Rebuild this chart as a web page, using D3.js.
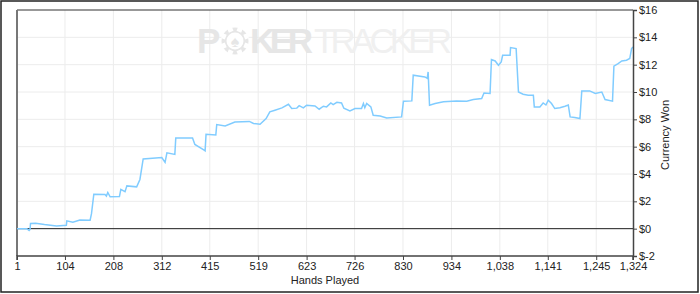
<!DOCTYPE html>
<html>
<head>
<meta charset="utf-8">
<script src="https://cdn.jsdelivr.net/npm/d3@7"></script>
<style>
  body { margin: 0; background: #fff; }
  svg { display: block; font-family: "Liberation Sans", Arial, sans-serif; }
</style>
</head>
<body>
<div id="container"></div>
<script>
// hands played and cumulative winnings
const hands = [1, 22, 27, 29, 30, 41, 60, 86, 107, 108, 121, 136, 158, 161, 166, 190, 193, 196, 201, 221,
  224, 233, 237, 258, 265, 272, 312, 319, 323, 340, 342, 378, 383, 403, 405, 407, 428, 430, 448, 469,
  500, 509, 523, 536, 544, 555, 570, 584, 591, 602, 607, 616, 623, 641, 650, 659, 666, 675, 680, 688,
  698, 703, 716, 727, 741, 745, 748, 752, 761, 766, 781, 795, 827, 831, 849, 852, 877, 882, 884, 887,
  899, 917, 945, 967, 981, 999, 1004, 1017, 1020, 1028, 1035, 1041, 1044, 1060, 1061, 1073, 1078, 1088, 1099, 1110,
  1112, 1124, 1131, 1137, 1142, 1149, 1156, 1167, 1178, 1185, 1189, 1199, 1210, 1214, 1231, 1243, 1257, 1264, 1280, 1283,
  1292, 1300, 1310, 1317, 1321, 1324];
const won = [0, 0, -0.13, -0.05, 0.38, 0.4, 0.3, 0.2, 0.25, 0.57, 0.47, 0.64, 0.62, 1.1, 2.52, 2.5, 2.38, 2.65, 2.33, 2.35,
  2.87, 2.7, 3.13, 3.06, 3.6, 5.1, 5.2, 4.85, 5.55, 5.43, 6.64, 6.64, 6.16, 5.75, 5.7, 6.9, 6.85, 7.62, 7.52, 7.81,
  7.85, 7.7, 7.64, 8.06, 8.55, 8.67, 8.84, 9.1, 8.79, 8.82, 9.0, 8.84, 9.03, 8.98, 8.74, 8.96, 8.91, 9.2, 9.08, 9.25,
  9.2, 8.81, 8.62, 8.79, 8.79, 9.16, 8.85, 9.16, 8.91, 8.3, 8.25, 8.1, 8.18, 9.33, 9.35, 11.23, 11.1, 11.0, 11.47, 9.03,
  9.16, 9.28, 9.35, 9.33, 9.45, 9.52, 9.93, 9.89, 12.38, 12.27, 11.96, 12.2, 12.69, 12.69, 13.25, 13.18, 10.0, 9.84, 9.77, 9.77,
  8.91, 8.91, 9.2, 9.05, 9.4, 9.16, 8.79, 8.85, 8.96, 9.05, 8.18, 8.13, 8.06, 10.08, 10.08, 9.89, 10.0, 9.45, 9.33, 11.89,
  12.08, 12.27, 12.33, 12.45, 13.18, 13.3];
const xTicks = [1, 104, 208, 312, 415, 519, 623, 726, 830, 934, 1038, 1141, 1245, 1324];
const yTicks = [-2, 0, 2, 4, 6, 8, 10, 12, 14, 16];

const width = 700;
const height = 294;
const m = { left: 17, right: 633, top: 10, bottom: 256 };

const svg = d3.select('#container')
  .append('svg')
  .attr('width', width)
  .attr('height', height);

// outer frame
svg.append('rect')
  .attr('x', 1).attr('y', 1)
  .attr('width', 697).attr('height', 291)
  .attr('fill', '#fff')
  .attr('stroke', '#222')
  .attr('stroke-width', 1.5);

const x = d3.scaleLinear().domain([1, 1324]).range([m.left, m.right]);
const y = d3.scaleLinear().domain([-2, 16]).range([m.bottom, m.top]);

// grid
svg.append('g')
  .selectAll('line')
  .data(xTicks.slice(1, -1))
  .enter()
  .append('line')
  .attr('x1', d => x(d)).attr('x2', d => x(d))
  .attr('y1', m.top).attr('y2', m.bottom)
  .attr('stroke', '#ececec');

svg.append('g')
  .selectAll('line')
  .data(yTicks.slice(1, -1))
  .enter()
  .append('line')
  .attr('x1', m.left).attr('x2', m.right)
  .attr('y1', d => y(d)).attr('y2', d => y(d))
  .attr('stroke', '#ececec');

// watermark
const wm = svg.append('g').attr('font-size', '35px');
wm.append('text')
  .attr('x', 197).attr('y', 53)
  .attr('font-weight', 'bold')
  .attr('fill', '#e6e6e6')
  .text('P');
const chip = wm.append('g').attr('transform', 'translate(235,41)');
chip.append('circle').attr('r', 13.5).attr('fill', '#e6e6e6');
chip.selectAll('rect')
  .data(d3.range(8))
  .enter()
  .append('rect')
  .attr('x', -2.5).attr('y', -14).attr('width', 5).attr('height', 4)
  .attr('fill', '#fff')
  .attr('transform', d => `rotate(${d * 45 + 22.5})`);
chip.append('circle').attr('r', 8.5).attr('fill', '#fff');
chip.append('text')
  .attr('text-anchor', 'middle')
  .attr('y', 5.5)
  .attr('font-size', '16px')
  .attr('fill', '#e6e6e6')
  .text('\u2660');
wm.append('text')
  .attr('x', 250).attr('y', 53)
  .attr('font-weight', 'bold')
  .attr('fill', '#e6e6e6')
  .attr('textLength', 63)
  .text('KER');
wm.append('text')
  .attr('x', 314).attr('y', 53)
  .attr('fill', '#f0f0f0')
  .attr('textLength', 138)
  .text('TRACKER');

// plot border
svg.append('line')
  .attr('x1', m.left).attr('x2', m.right)
  .attr('y1', m.top).attr('y2', m.top)
  .attr('stroke', '#333');
svg.append('line')
  .attr('x1', m.left).attr('x2', m.left)
  .attr('y1', m.top).attr('y2', m.bottom)
  .attr('stroke', '#777')
  .attr('stroke-width', 2);

// zero line
svg.append('line')
  .attr('x1', m.left).attr('x2', m.right)
  .attr('y1', y(0)).attr('y2', y(0))
  .attr('stroke', '#222');

// series
const data = hands.map((h, i) => ({ h, v: won[i] }));
const line = d3.line()
  .x(d => x(d.h))
  .y(d => y(d.v));

svg.append('path')
  .datum(data)
  .attr('d', line)
  .attr('fill', 'none')
  .attr('stroke', '#80ccff')
  .attr('stroke-width', 1.5);

// axes
const fmt = d3.format(',');
const xAxis = d3.axisBottom(x)
  .tickValues(xTicks)
  .tickFormat(fmt)
  .tickSize(4)
  .tickPadding(2);
const gx = svg.append('g')
  .attr('transform', `translate(0,${m.bottom})`)
  .call(xAxis);

const yAxis = d3.axisRight(y)
  .tickValues(yTicks)
  .tickFormat(d => '$' + d)
  .tickSize(4)
  .tickPadding(2);
const gy = svg.append('g')
  .attr('transform', `translate(${m.right},0)`)
  .call(yAxis);

[gx, gy].forEach(g => {
  g.select('.domain').attr('stroke', '#444').attr('stroke-width', 1.5);
  g.selectAll('.tick line').attr('stroke', '#444');
  g.selectAll('.tick text')
    .attr('fill', '#222')
    .attr('font-size', '11px')
    .attr('font-family', '"Liberation Sans", Arial, sans-serif');
});
gx.select('.domain').attr('d', `M${m.left},4V0H${m.right}V4`);

svg.append('text')
  .attr('x', 325).attr('y', 284)
  .attr('text-anchor', 'middle')
  .attr('font-size', '11px')
  .attr('fill', '#222')
  .text('Hands Played');

svg.append('text')
  .attr('transform', 'translate(669,135) rotate(-90)')
  .attr('text-anchor', 'middle')
  .attr('font-size', '11px')
  .attr('fill', '#222')
  .text('Currency Won');
</script>
</body>
</html>
